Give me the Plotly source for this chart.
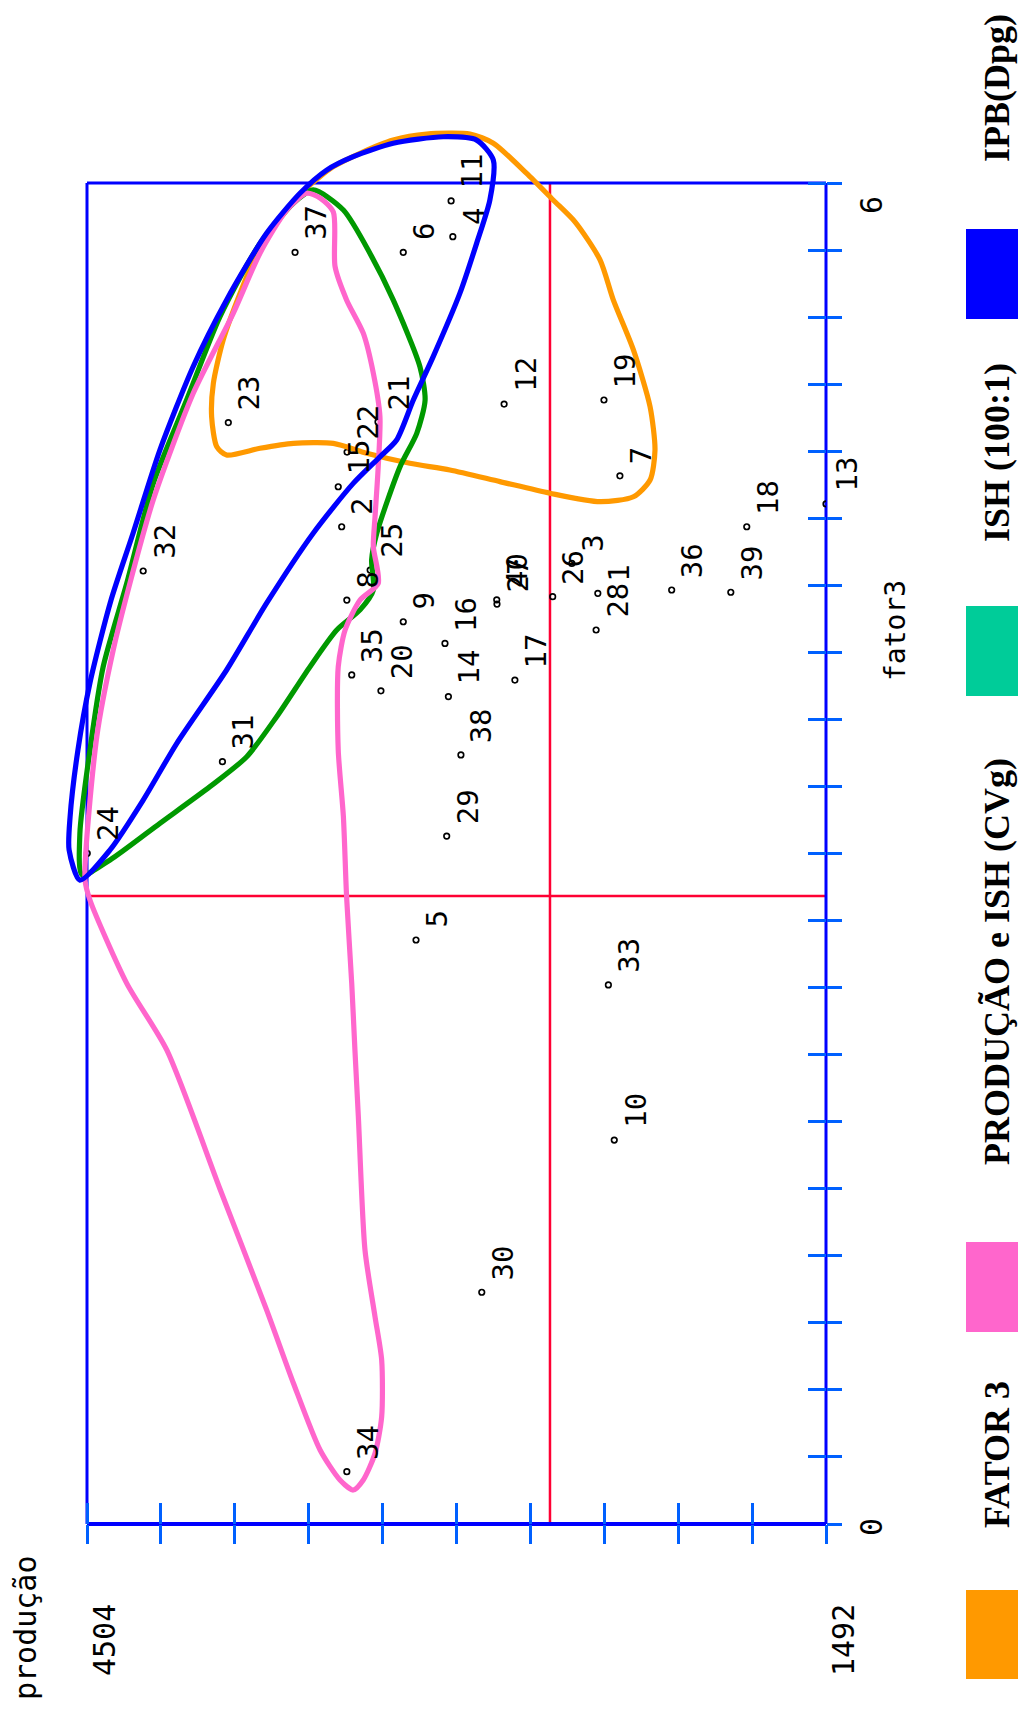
import plotly.graph_objects as go

# ---------------- data ----------------
point_ids = [str(i) for i in range(1, 41)]
producao = [2422, 3466, 2528, 3013, 3163, 3215, 2332, 3445, 3215, 2355,
            3020, 2804, 1492, 3031, 3480, 3045, 2760, 1815, 2397, 3306,
            3318, 3444, 3928, 4503, 3350, 2606, 2833, 2429, 3038, 2895,
            3952, 4275, 2379, 3445, 3425, 2121, 3656, 2980, 1880, 2834]
fator3 = [4.164, 4.462, 4.298, 5.760, 2.613, 5.690, 4.690, 4.134, 4.037, 1.718,
          5.920, 5.011, 4.564, 3.702, 4.641, 3.940, 3.776, 4.462, 5.029, 3.728,
          4.931, 4.796, 4.928, 3.001, 4.268, 4.149, 4.116, 4.000, 3.078, 1.037,
          3.411, 4.264, 2.412, 0.234, 3.799, 4.179, 5.690, 3.441, 4.169, 4.135]

# group contours (produção, fator3)
fator3_grp_prod = [3996, 3989, 3949, 3880, 3799, 3690, 3609, 3500, 3391, 3256, 3120, 2943,
                   2848, 2712, 2604, 2515, 2413, 2359, 2277, 2209, 2189, 2209, 2277, 2413,
                   2617, 2821, 3025, 3188, 3364, 3500, 3663, 3799, 3935, 3975]
fator3_grp_f3 = [4.954, 5.104, 5.298, 5.507, 5.715, 5.879, 5.978, 6.073, 6.133, 6.192, 6.219, 6.219,
                 6.178, 6.043, 5.924, 5.826, 5.656, 5.477, 5.253, 4.999, 4.805, 4.671, 4.596, 4.574,
                 4.612, 4.664, 4.716, 4.746, 4.791, 4.835, 4.835, 4.813, 4.783, 4.820]

cvg_grp_prod = [4512, 4464, 4397, 4329, 4234, 4071, 3908, 3799, 3690, 3609, 3554, 3500,
                3493, 3446, 3378, 3337, 3310, 3317, 3330, 3337, 3317, 3391, 3452, 3480,
                3480, 3459, 3446, 3425, 3412, 3398, 3371, 3330, 3303, 3303, 3330, 3378,
                3419, 3473, 3554, 3663, 3772, 3962, 4179, 4342, 4492]
cvg_grp_f3 = [2.881, 3.523, 3.911, 4.210, 4.582, 5.059, 5.417, 5.686, 5.879, 5.954, 5.933, 5.870,
              5.626, 5.477, 5.328, 5.149, 4.954, 4.731, 4.507, 4.373, 4.209, 4.134, 4.000, 3.836,
              3.463, 3.165, 2.807, 2.419, 2.121, 1.822, 1.226, 0.927, 0.734, 0.480, 0.316, 0.197,
              0.152, 0.197, 0.331, 0.631, 0.958, 1.499, 2.121, 2.419, 2.792]

ish_grp_prod = [4524, 4410, 4207, 4003, 3853, 3731, 3595, 3486, 3391, 3337, 3344, 3323,
                3228, 3160, 3126, 3147, 3256, 3351, 3459, 3582, 3663, 3799, 3962, 4098,
                4234, 4342, 4438, 4492, 4533]
ish_grp_f3 = [2.904, 2.971, 3.135, 3.299, 3.433, 3.612, 3.836, 4.000, 4.090, 4.179, 4.313, 4.433,
              4.731, 4.880, 5.029, 5.178, 5.477, 5.686, 5.879, 5.969, 5.909, 5.730, 5.402, 5.029,
              4.656, 4.209, 3.836, 3.463, 3.090]

ipb_grp_prod = [4533, 4410, 4275, 4138, 3935, 3772, 3582, 3419, 3310, 3242, 3174, 3093,
                2984, 2916, 2862, 2848, 2916, 3052, 3256, 3419, 3527, 3636, 3772, 3935,
                4072, 4207, 4316, 4406, 4492, 4541, 4573, 4577]
ipb_grp_f3 = [2.881, 3.016, 3.239, 3.493, 3.821, 4.120, 4.433, 4.656, 4.775, 4.850, 5.029, 5.223,
              5.507, 5.730, 5.924, 6.103, 6.192, 6.207, 6.178, 6.118, 6.058, 5.954, 5.775, 5.477,
              5.177, 4.805, 4.434, 4.134, 3.763, 3.463, 3.163, 3.016]

ref_producao = 2617
ref_fator3 = 2.81

x_min, x_max = 1492, 4504
y_min, y_max = 0, 6
x_tick_labels = ["4504", "1492"]
y_tick_labels = ["0", "6"]

legend_names = ["FATOR 3", "PRODUÇÃO e ISH (CVg)", "ISH (100:1)", "IPB(Dpg)"]
legend_colors = ["#ff9900", "#ff66cc", "#00cc99", "#0000ff"]
curve_colors = ["#ff9900", "#ff66cc", "#009900", "#0000ff"]

# ---------------- layout geometry ----------------
OFF = 8                      # default page body margin
W, H = 1026 - OFF, 1726 - OFF
ML, MR, MT, MB = 54 - OFF, 200, 71 - OFF, 202
plot_w = W - ML - MR
plot_h = H - MT - MB
frame_left_px, frame_top_px = 87 - OFF, 183 - OFF
sx = (W - MR - frame_left_px) / (x_max - x_min)
sy = (H - MB - frame_top_px) / (y_max - y_min)
x_range = [x_max + (frame_left_px - ML) / sx, x_min]
y_range = [y_min, y_max + (frame_top_px - MT) / sy]


def xp(v):
    return (v - x_range[0]) / (x_range[1] - x_range[0])


def yp(v):
    return (v - y_range[0]) / (y_range[1] - y_range[0])


def px2x(X):
    return (X - OFF - ML) / plot_w


def px2y(Y):
    return (H - MB - (Y - OFF)) / plot_h


fig = go.Figure()

# points (drawn first so the contours lie over them)
fig.add_trace(go.Scatter(
    x=producao, y=fator3, mode="markers",
    marker=dict(symbol="circle-open", size=5.5, color="black", line=dict(width=1.7, color="black")),
    showlegend=False, hoverinfo="skip"))

groups = [
    (fator3_grp_prod, fator3_grp_f3, curve_colors[0]),
    (ish_grp_prod, ish_grp_f3, curve_colors[2]),
    (cvg_grp_prod, cvg_grp_f3, curve_colors[1]),
    (ipb_grp_prod, ipb_grp_f3, curve_colors[3]),
]
for gx, gy, col in groups:
    fig.add_trace(go.Scatter(
        x=gx + gx[:1], y=gy + gy[:1], mode="lines",
        line=dict(color=col, width=5.2, shape="spline", smoothing=0.7),
        showlegend=False, hoverinfo="skip"))

# helper trace for the overlay axes (inner tick halves)
fig.add_trace(go.Scatter(x=[], y=[], xaxis="x2", yaxis="y2", showlegend=False, hoverinfo="skip"))

tick_col = "#0060ff"
x_ticks = [x_max - k * (x_max - x_min) / 10 for k in range(11)]
y_ticks = [round(k * 0.3, 2) for k in range(21)]

axis_common = dict(showgrid=False, zeroline=False, showline=False, showticklabels=False,
                   fixedrange=True, tickmode="array", tickcolor=tick_col, tickwidth=3)

fig.update_layout(
    width=W, height=H,
    margin=dict(l=ML, r=MR, t=MT, b=MB, pad=0),
    paper_bgcolor="white", plot_bgcolor="white",
    showlegend=False,
    xaxis=dict(range=x_range, tickvals=x_ticks, ticks="outside", ticklen=19, **axis_common),
    yaxis=dict(range=y_range, tickvals=y_ticks, ticks="outside", ticklen=15, side="right", **axis_common),
    xaxis2=dict(range=x_range, tickvals=x_ticks, ticks="inside", ticklen=21, overlaying="x",
                anchor="y2", side="bottom", **axis_common),
    yaxis2=dict(range=y_range, tickvals=y_ticks, ticks="inside", ticklen=18, overlaying="y",
                anchor="x2", side="right", **axis_common),
)

shapes = []
blue = "#0000ff"
red = "#ff0033"
# red reference lines
shapes.append(dict(type="line", xref="paper", yref="paper", x0=xp(ref_producao), x1=xp(ref_producao),
                   y0=yp(y_min), y1=yp(y_max), line=dict(color=red, width=2.5), layer="below"))
shapes.append(dict(type="line", xref="paper", yref="paper", x0=xp(x_max), x1=xp(x_min),
                   y0=yp(ref_fator3), y1=yp(ref_fator3), line=dict(color=red, width=2.5), layer="below"))
# frame
shapes.append(dict(type="line", xref="paper", yref="paper", x0=xp(x_max), x1=xp(x_max),
                   y0=yp(y_min), y1=yp(y_max), line=dict(color=blue, width=3), layer="below"))
shapes.append(dict(type="line", xref="paper", yref="paper", x0=xp(x_max), x1=xp(x_min),
                   y0=yp(y_max), y1=yp(y_max), line=dict(color=blue, width=3), layer="below"))
shapes.append(dict(type="line", xref="paper", yref="paper", x0=xp(x_min), x1=xp(x_min),
                   y0=yp(y_min), y1=yp(y_max), line=dict(color=blue, width=3), layer="below"))
shapes.append(dict(type="line", xref="paper", yref="paper", x0=xp(x_max), x1=xp(x_min),
                   y0=yp(y_min), y1=yp(y_min), line=dict(color=blue, width=4), layer="below"))

# legend boxes
legend_box_y = [(1590, 1679), (1242, 1332), (606, 696), (229, 319)]
legend_text_y = [1454, 961, 452, 88]
for (ya, yb), col in zip(legend_box_y, legend_colors):
    shapes.append(dict(type="rect", xref="paper", yref="paper",
                       x0=px2x(966), x1=px2x(1022), y0=px2y(yb), y1=px2y(ya),
                       fillcolor=col, line=dict(width=0)))
fig.update_layout(shapes=shapes)

ann = []
mono = "DejaVu Sans Mono"
for pid, xv, yv in zip(point_ids, producao, fator3):
    ann.append(dict(x=xv, y=yv, xref="x", yref="y", text=pid, showarrow=False, textangle=-90,
                    xanchor="left", yanchor="bottom", xshift=2, yshift=10,
                    font=dict(family=mono, size=29, color="black")))

# tick labels
for lab, v in zip(x_tick_labels, [x_max, x_min]):
    ann.append(dict(x=v, y=px2y(1640), xref="x", yref="paper", text=lab, showarrow=False,
                    textangle=-90, xanchor="center", yanchor="middle", xshift=17,
                    font=dict(family=mono, size=30, color="black")))
for lab, v, ys in zip(y_tick_labels, [y_min, y_max], [-3, -22]):
    ann.append(dict(x=px2x(871), y=v, xref="paper", yref="y", text=lab, showarrow=False,
                    textangle=-90, xanchor="center", yanchor="middle", yshift=ys,
                    font=dict(family=mono, size=30, color="black")))

# axis titles
ann.append(dict(x=px2x(25), y=px2y(1628), xref="paper", yref="paper", text="produção", showarrow=False,
                textangle=-90, xanchor="center", yanchor="middle",
                font=dict(family=mono, size=30, color="black")))
ann.append(dict(x=px2x(896), y=px2y(631), xref="paper", yref="paper", text="fator3", showarrow=False,
                textangle=-90, xanchor="center", yanchor="middle",
                font=dict(family=mono, size=28, color="black")))

# legend texts
for name, ty in zip(legend_names, legend_text_y):
    ann.append(dict(x=px2x(997), y=px2y(ty), xref="paper", yref="paper", text="<b>%s</b>" % name,
                    showarrow=False, textangle=-90, xanchor="center", yanchor="middle",
                    font=dict(family="Liberation Serif", size=36, color="black")))

fig.update_layout(annotations=ann)
fig.write_html("out.html")
